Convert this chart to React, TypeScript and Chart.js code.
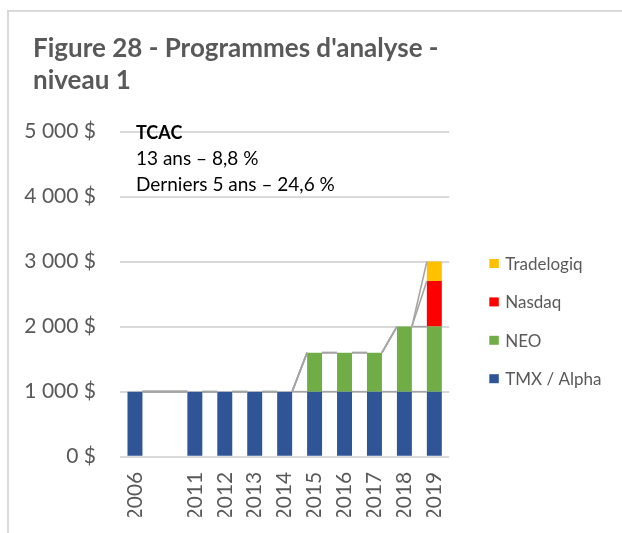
import React, { useEffect, useRef } from "react";
import { Chart, registerables } from "chart.js";

Chart.register(...registerables);

const categories = ["2006", "", "2011", "2012", "2013", "2014", "2015", "2016", "2017", "2018", "2019"];
const tmxAlpha = [1000, null, 1000, 1000, 1000, 1000, 1000, 1000, 1000, 1000, 1000];
const neo = [0, null, 0, 0, 0, 0, 600, 600, 600, 1000, 1000];
const nasdaq = [0, null, 0, 0, 0, 0, 0, 0, 0, 0, 700];
const tradelogiq = [0, null, 0, 0, 0, 0, 0, 0, 0, 0, 300];
const seriesNames = ["TMX / Alpha", "NEO", "Nasdaq", "Tradelogiq"];
const seriesColors = ["#2F5597", "#70AD47", "#FF0000", "#FFC000"];
const titleLines = ["Figure 28 - Programmes d'analyse -", "niveau 1"];
const noteTitle = "TCAC";
const noteLines = ["13 ans \u2013 8,8 %", "Derniers 5 ans \u2013 24,6 %"];
const yTickValues = [0, 1000, 2000, 3000, 4000, 5000];

const FONT = "Lato, 'Noto Sans', sans-serif";
const GRAY_TEXT = "#595959";

function fmtDollar(v: number): string {
  const s = String(Math.round(v));
  const withSpaces = s.replace(/\B(?=(\d{3})+(?!\d))/g, " ");
  return withSpaces + " $";
}

const seriesLinesPlugin = {
  id: "seriesLines",
  afterDatasetsDraw(chart: any) {
    const ctx = chart.ctx;
    const yScale = chart.scales.y;
    const dsCount = chart.data.datasets.length;
    ctx.save();
    ctx.strokeStyle = "#A5A5A5";
    ctx.lineWidth = 1.6;
    for (let d = 0; d < dsCount; d++) {
      const meta = chart.getDatasetMeta(d);
      const tops: (number | null)[] = categories.map((_, i) => {
        let sum = 0;
        let any = false;
        for (let k = 0; k <= d; k++) {
          const v = chart.data.datasets[k].data[i];
          if (v !== null && v !== undefined) {
            sum += v;
            any = true;
          }
        }
        return any ? sum : null;
      });
      let prev = -1;
      for (let i = 0; i < categories.length; i++) {
        if (tops[i] === null) continue;
        if (prev >= 0) {
          const a = meta.data[prev];
          const b = meta.data[i];
          const x1 = a.x + a.width / 2;
          const x2 = b.x - b.width / 2;
          ctx.beginPath();
          ctx.moveTo(x1, yScale.getPixelForValue(tops[prev] as number));
          ctx.lineTo(x2, yScale.getPixelForValue(tops[i] as number));
          ctx.stroke();
        }
        prev = i;
      }
    }
    ctx.restore();
  },
};

const overlayPlugin = {
  id: "overlay",
  afterDraw(chart: any) {
    const ctx = chart.ctx;
    const area = chart.chartArea;
    ctx.save();
    // title
    ctx.fillStyle = GRAY_TEXT;
    ctx.textAlign = "left";
    ctx.textBaseline = "alphabetic";
    ctx.font = "bold 26px " + FONT;
    titleLines.forEach((t, i) => ctx.fillText(t, 33, 56.5 + i * 32));
    // annotation
    ctx.fillStyle = "#000000";
    const nx = area.left + 16;
    ctx.font = "bold 18px " + FONT;
    ctx.fillText(noteTitle, nx, area.top + 7);
    ctx.font = "19px " + FONT;
    noteLines.forEach((t, i) => ctx.fillText(t, nx, area.top + 33 + i * 26.5));
    // legend
    const lx = area.right + 40;
    const ly = area.top + 132;
    ctx.font = "17px " + FONT;
    ctx.textBaseline = "middle";
    const order = [3, 2, 1, 0];
    order.forEach((d, j) => {
      const cy = ly + j * 38.4;
      ctx.fillStyle = seriesColors[d];
      ctx.fillRect(lx, cy - 4.5, 9.5, 9);
      ctx.fillStyle = GRAY_TEXT;
      ctx.fillText(seriesNames[d], lx + 16, cy + 1);
    });
    ctx.restore();
  },
};

export default function App() {
  const ref = useRef<HTMLCanvasElement | null>(null);
  useEffect(() => {
    if (!ref.current) return;
    const data = [tmxAlpha, neo, nasdaq, tradelogiq];
    const chart = new Chart(ref.current, {
      type: "bar",
      data: {
        labels: categories,
        datasets: data.map((arr, i) => ({
          label: seriesNames[i],
          data: arr as any,
          backgroundColor: seriesColors[i],
          borderWidth: 0,
          barPercentage: 0.5,
          categoryPercentage: 1,
        })),
      },
      options: {
        responsive: false,
        animation: false,
        devicePixelRatio: 1,
        layout: { padding: { left: 0, right: 172.7, top: 131.5, bottom: 16.3 } },
        plugins: {
          legend: { display: false },
          tooltip: { enabled: false },
          title: { display: false },
        },
        scales: {
          x: {
            stacked: true,
            grid: { display: false, drawTicks: false },
            border: { display: false },
            ticks: {
              minRotation: 90,
              maxRotation: 90,
              autoSkip: false,
              padding: 15,
              color: GRAY_TEXT,
              font: { family: FONT, size: 21 },
            },
            afterFit(scale: any) {
              scale.height = 60;
            },
          },
          y: {
            stacked: true,
            min: 0,
            max: 5000,
            afterBuildTicks(scale: any) {
              scale.ticks = yTickValues.map((v) => ({ value: v }));
            },
            grid: { color: "#D9D9D9", lineWidth: 2, drawTicks: false },
            border: { display: false },
            ticks: {
              padding: 24,
              color: GRAY_TEXT,
              font: { family: FONT, size: 21 },
              callback: (v: any) => fmtDollar(Number(v)),
            },
            afterFit(scale: any) {
              scale.width = 120;
            },
          },
        },
      },
      plugins: [seriesLinesPlugin, overlayPlugin],
    });
    return () => chart.destroy();
  }, []);

  return (
    <div style={{ position: "fixed", left: 0, top: 0, width: 622, height: 533, background: "#ffffff", overflow: "hidden" }}>
      <div
        style={{
          position: "absolute",
          left: 7,
          top: 10,
          width: 700,
          height: 600,
          borderTop: "2px solid #D9D9D9",
          borderLeft: "2px solid #D9D9D9",
        }}
      />
      <canvas ref={ref} width={622} height={533} style={{ position: "absolute", left: 0, top: 0, width: 622, height: 533 }} />
    </div>
  );
}
